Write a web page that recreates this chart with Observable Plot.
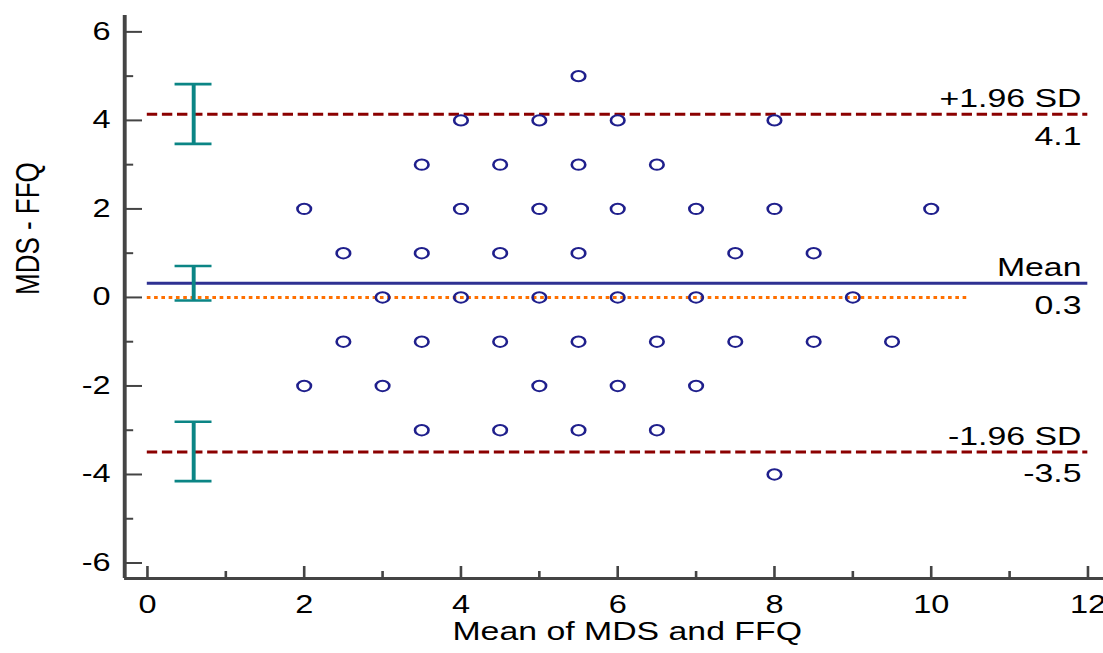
<!DOCTYPE html>
<html><head><meta charset="utf-8">
<script src="https://cdn.jsdelivr.net/npm/d3@7"></script>
<script src="https://cdn.jsdelivr.net/npm/@observablehq/plot@0.6"></script>
<style>body{margin:0;background:#fff} #chart svg{display:block}</style>
</head><body><div id="chart"></div>
<script>
// Data: mean of MDS and FFQ (x) vs difference MDS - FFQ (y)
const meanValues = [
  5.5,
  4, 5, 6, 8,
  3.5, 4.5, 5.5, 6.5,
  2, 4, 5, 6, 7, 8, 10,
  2.5, 3.5, 4.5, 5.5, 7.5, 8.5,
  3, 4, 5, 6, 7, 9,
  2.5, 3.5, 4.5, 5.5, 6.5, 7.5, 8.5, 9.5,
  2, 3, 5, 6, 7,
  3.5, 4.5, 5.5, 6.5,
  8
];
const diffValues = [
  5,
  4, 4, 4, 4,
  3, 3, 3, 3,
  2, 2, 2, 2, 2, 2, 2,
  1, 1, 1, 1, 1, 1,
  0, 0, 0, 0, 0, 0,
  -1, -1, -1, -1, -1, -1, -1, -1,
  -2, -2, -2, -2, -2,
  -3, -3, -3, -3,
  -4
];
const limitNames = ["+1.96 SD", "Mean", "-1.96 SD"];
const limitValues = [4.14, 0.32, -3.49];
const limitLabels = ["4.1", "0.3", "-3.5"];
const ciLow = [3.47, -0.07, -4.15];
const ciHigh = [4.82, 0.71, -2.81];
const ciX = 0.59;
const lineStart = 0, lineEnd = 12, zeroLineEnd = 10.5;
const xMajor = [0, 2, 4, 6, 8, 10, 12];
const xMinor = [1, 3, 5, 7, 9, 11];
const yMajor = [-6, -4, -2, 0, 2, 4, 6];
const yMinor = [-5, -3, -1, 1, 3, 5];
const xDomain = [-0.29, 12.2];
const yDomain = [-6.35, 6.37];
const xTitle = "Mean of MDS and FFQ";
const yTitle = "MDS - FFQ";

const points = meanValues.map((x, i) => ({x, y: diffValues[i]}));
const limits = limitNames.map((name, i) => ({name, value: limitValues[i], label: limitLabels[i], lo: ciLow[i], hi: ciHigh[i]}));
const caps = limits.flatMap(d => [d.lo, d.hi]);

const S = 1.3; // horizontal stretch of the reference
const W = Math.round(1103 / S);
const axisColor = "#444";
const fmt = d => String(d);

const svg = Plot.plot({
  width: W, height: 653,
  marginLeft: 124 / S, marginRight: 0, marginTop: 15, marginBottom: 75,
  x: {domain: xDomain},
  y: {domain: yDomain},
  style: {fontFamily: "'Liberation Sans', Arial, sans-serif", background: "white", color: "black"},
  marks: [
    Plot.ruleY([0], {x1: lineStart, x2: zeroLineEnd, stroke: "#ff7000", strokeWidth: 3, strokeDasharray: "2.8,2.8"}),
    Plot.ruleY(limits.filter(d => d.name !== "Mean"), {y: "value", x1: lineStart, x2: lineEnd, stroke: "#8b0000", strokeWidth: 3, strokeDasharray: "8,3.6"}),
    Plot.ruleY(limits.filter(d => d.name === "Mean"), {y: "value", x1: lineStart, x2: lineEnd, stroke: "#2e3192", strokeWidth: 3}),
    Plot.ruleX(limits, {x: ciX, y1: "lo", y2: "hi", stroke: "#0b8585", strokeWidth: 3}),
    Plot.ruleY(caps, {y: d => d, x1: ciX, x2: ciX, insetLeft: -14.2, insetRight: -14.2, stroke: "#0b8585", strokeWidth: 2.6}),
    Plot.dot(points, {x: "x", y: "y", r: 5.2, stroke: "#1f1f8c", strokeWidth: 2, fill: "none"}),
    Plot.text(limits, {x: lineEnd, y: "value", text: "name", textAnchor: "end", lineAnchor: "bottom", dx: -5, dy: -7, fontSize: 26, fill: "black"}),
    Plot.text(limits, {x: lineEnd, y: "value", text: "label", textAnchor: "end", lineAnchor: "top", dx: -5, dy: 12, fontSize: 26, fill: "black"}),
    // axes
    Plot.ruleX([xDomain[0]], {stroke: axisColor, strokeWidth: 3}),
    Plot.ruleY([yDomain[0]], {stroke: axisColor, strokeWidth: 3}),
    Plot.axisY(yMajor, {tickSize: -13.8, fill: "none", label: null, stroke: axisColor, strokeWidth: 2}),
    Plot.axisY(yMinor, {tickSize: -7, fill: "none", label: null, stroke: axisColor, strokeWidth: 2}),
    Plot.axisY(yMajor, {tickSize: 0, tickPadding: 10.8, label: null, fontSize: 25, tickFormat: fmt}),
    Plot.axisX(xMajor, {tickSize: -12, fill: "none", label: null, stroke: axisColor, strokeWidth: 2}),
    Plot.axisX(xMinor, {tickSize: -7, fill: "none", label: null, stroke: axisColor, strokeWidth: 2}),
    Plot.axisX(xMajor, {tickSize: 0, tickPadding: 17, label: null, fontSize: 25, tickFormat: fmt}),
    Plot.text([xTitle], {text: d => d, frameAnchor: "bottom", dy: 61, dx: 10, fontSize: 26, fill: "black"}),
    Plot.text([yTitle], {text: d => d, frameAnchor: "left", dx: -96 / S, dy: -2, rotate: -90, fontSize: 26, fill: "black"})
  ]
});
svg.setAttribute("width", 1103);
svg.setAttribute("height", 653);
svg.setAttribute("preserveAspectRatio", "none");
svg.style.maxWidth = "none";
svg.style.width = "1103px";
svg.style.height = "653px";
document.getElementById("chart").append(svg);
</script>
</body></html>
